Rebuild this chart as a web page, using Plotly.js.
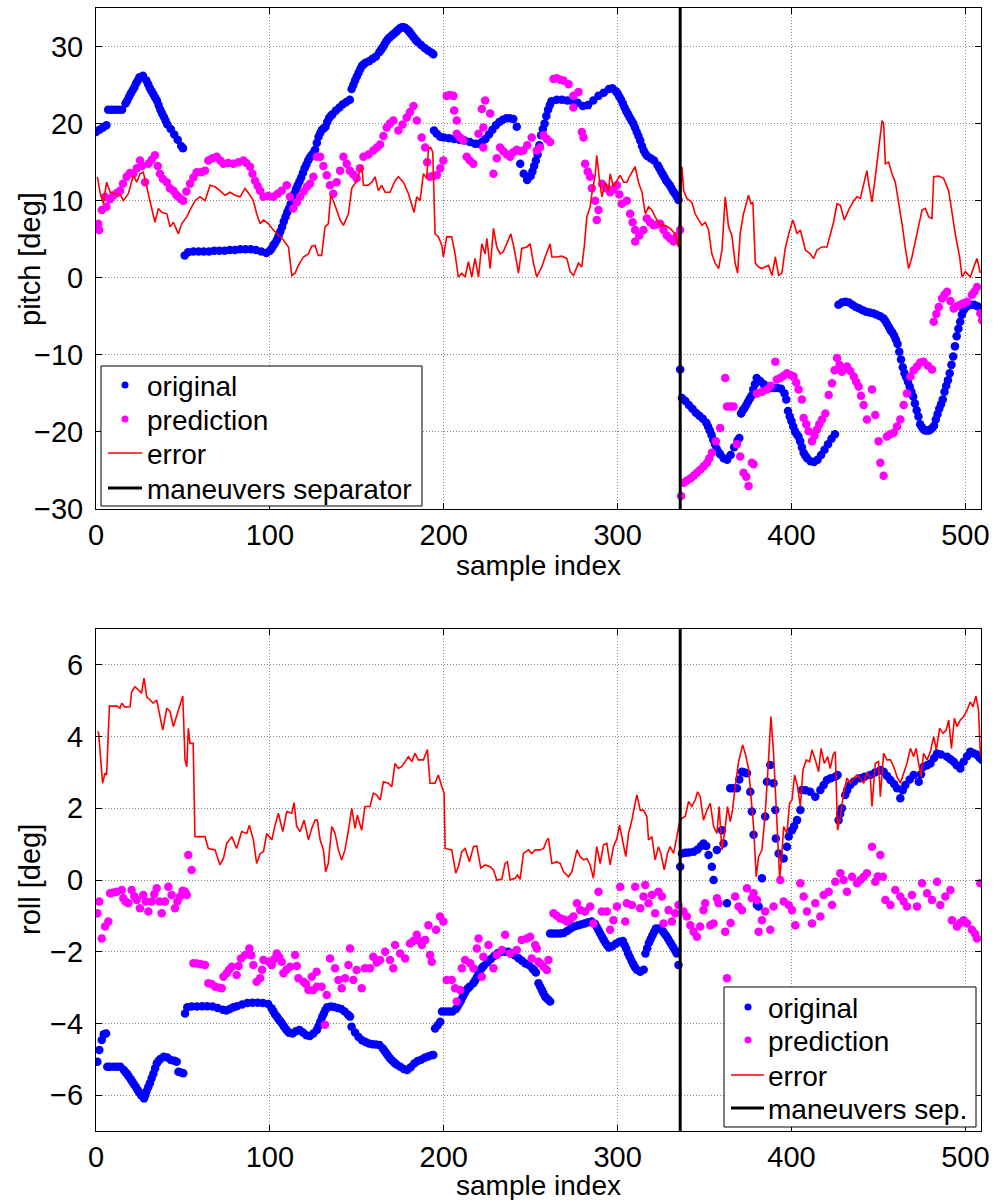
<!DOCTYPE html>
<html>
<head>
<meta charset="utf-8">
<script src="https://cdn.plot.ly/plotly-3.0.1.min.js"></script>
<style>html,body{margin:0;padding:0;background:#fff;}#chart{width:996px;height:1200px;}</style>
</head>
<body>
<div id="chart"></div>
<script>
// ---------- DATA (sample index, value) ----------
const separatorIndex = 336;
const xTicks = [0, 100, 200, 300, 400, 500];
const pitchTicks = [-30, -20, -10, 0, 10, 20, 30];
const rollTicks = [-6, -4, -2, 0, 2, 4, 6];
const pitchLegend = ['original', 'prediction', 'error', 'maneuvers separator'];
const rollLegend = ['original', 'prediction', 'error', 'maneuvers sep.'];

const pitchOriginal = [
[0,18.9],[2,19.2],[4,19.5],[6,19.8],[7,21.8],[9,21.8],[11,21.8],[13,21.8],[15,21.8],[17,22.6],[19,23.5],[21,24.3],[23,25.2],[25,26.0],[27,26.2],[29,25.6],[31,24.6],[33,23.8],[35,23.0],[37,21.8],[39,20.9],[41,19.9],[43,19.3],[45,18.6],[47,17.9],[49,17.1],[50,16.8],
[51,2.9],[53,3.3],[56,3.4],[59,3.4],[62,3.4],[65,3.4],[68,3.5],[71,3.5],[74,3.5],[77,3.6],[80,3.6],[83,3.7],[86,3.7],[89,3.7],[92,3.6],[95,3.4],[98,3.2],[100,3.5],[102,4.2],[104,4.9],[106,6.0],[108,7.3],[110,8.5],[112,9.6],[114,10.9],[116,12.0],[118,13.0],[120,14.2],[122,15.2],[124,15.9],[126,16.6],[128,18.3],[130,19.2],[132,19.6],[134,20.7],[136,21.2],[138,21.7],[140,22.1],[142,22.5],[144,22.8],[146,23.1],[147,24.5],[149,25.6],[151,26.6],[153,27.5],[155,27.9],[157,28.1],[159,28.4],[161,28.7],[163,29.3],[165,29.9],[167,30.7],[169,31.2],[171,31.6],[173,32.0],[175,32.4],[177,32.5],[179,32.2],[181,31.7],[183,31.1],[185,30.6],[187,30.2],[189,29.8],[191,29.5],[193,29.2],[194,29.0],
[194.4,19.1],[196,18.7],[198,18.3],[200,18.2],[203,18.1],[206,18.0],[209,17.9],[212,17.8],[215,17.6],[218,17.4],[220,17.4],[222,17.6],[224,18.0],[226,18.6],[228,19.2],[230,19.8],[232,20.2],[234,20.5],[236,20.7],[238,20.7],[240,20.6],[242,19.6],
[244,14.8],[246,13.5],[248,12.7],[250,13.2],[252,14.5],[254,16.0],[256,18.5],[258,20.0],[260,21.8],[262,22.9],[265,23.1],[268,23.1],[271,23.0],[274,22.9],[277,22.7],[280,22.3],[283,22.4],[286,23.0],[289,23.6],[292,24.0],[295,24.5],[297,24.6],[299,24.2],[301,23.5],[303,22.6],[305,21.6],[307,20.8],[309,20.0],[311,18.9],[313,17.8],[315,16.5],[317,15.8],[319,15.5],[321,15.2],[323,14.6],[325,13.8],[327,13.0],[329,12.3],[331,11.6],[333,10.9],[335,10.1],
[336,-11.9],[337,-15.6],[339,-16.0],[341,-16.5],[343,-17.0],[345,-17.5],[347,-17.9],[349,-18.3],[351,-18.8],[353,-19.8],[355,-21.0],[357,-22.2],[359,-22.9],[361,-23.4],[363,-23.6],[365,-23.0],[367,-22.0],[369,-21.1],[370,-20.8],
[371,-17.6],[373,-16.9],[375,-16.1],[377,-15.3],[378,-14.5],[380,-13.0],[382,-13.4],[384,-13.8],[386,-14.1],[388,-14.3],[390,-14.3],[392,-14.3],[394,-14.4],[396,-15.0],[397,-15.8],[398,-17.3],[400,-18.6],[402,-19.9],[404,-20.6],[405,-21.2],[407,-22.7],[409,-23.4],[411,-23.8],[413,-23.9],[415,-23.6],[417,-23.0],[419,-22.3],[421,-21.6],[423,-20.9],[425,-20.3],
[427,-3.5],[429,-3.2],[431,-3.1],[433,-3.2],[435,-3.5],[437,-3.8],[439,-4.0],[441,-4.2],[443,-4.4],[445,-4.5],[447,-4.6],[449,-4.8],[451,-5.0],[453,-5.3],[455,-6.0],[457,-6.8],[459,-7.5],[461,-8.6],[462,-9.6],[463,-10.6],[464,-11.6],[465,-12.4],[467,-13.5],[468,-14.1],[470,-15.4],[471,-16.3],[473,-18.0],[474,-19.0],[476,-19.7],[478,-19.8],[480,-19.7],[482,-19.2],[483,-18.4],[485,-17.0],[487,-15.8],[488,-14.8],[490,-13.3],[491,-12.4],[492,-11.3],[493,-10.2],[494,-8.9],[495,-7.6],[496,-6.6],[497,-5.7],[498,-4.8],[499,-4.2],[501,-3.7],[503,-3.5],[505,-3.5],[507,-3.7],[509,-4.0],
[18,23.0],[20,23.9],[22,24.7],[24,25.6],[30,25.1],[32,24.2],[34,23.4],[36,22.4],[38,21.3],[40,20.4],
[101,3.8],[103,4.5],[105,5.4],[107,6.6],[109,7.9],[111,9.0],[113,10.2],[115,11.5],[117,12.5],[119,13.6],[121,14.7],[123,15.6],[125,16.2],[127,17.5],[129,18.8],[131,19.4],[133,20.2],[135,21.0],
[148,25.0],[150,26.1],[152,27.1],[154,27.7],[164,29.6],[166,30.3],[168,31.0],[170,31.4],[172,31.8],[174,32.2],[176,32.5],[178,32.4],[180,32.0],[182,31.4],[184,30.8],
[251,13.8],[253,15.2],[255,17.2],[257,19.3],[259,21.0],[261,22.4],
[300,23.9],[302,23.1],[304,22.1],[306,21.2],[308,20.4],[310,19.5],[312,18.4],[314,17.1],[316,16.1],[324,14.2],[326,13.4],[328,12.6],[330,12.0],[332,11.2],[334,10.5],
[352,-19.3],[354,-20.4],[356,-21.6],[358,-22.6],[372,-17.2],[374,-16.5],[376,-15.7],[379,-13.8],
[399,-18.0],[401,-19.3],[403,-20.3],[406,-22.0],[408,-23.1],
[454,-5.6],[456,-6.4],[458,-7.1],[460,-8.0],[466,-12.9],[469,-14.8],[472,-17.2],[475,-19.4],[477,-19.8],[479,-19.8],[481,-19.5],[484,-17.7],[486,-16.4],[489,-14.0],[500,-3.9]
];

const pitchPrediction = [
[1.3,7.0],[1.9,6.2],[3.3,8.8],[5.2,10.5],[6,9.2],[8,10.2],[10,10.7],[12,11.0],[13.8,11.3],[15.5,12.2],[17.6,13.1],[19.5,13.6],[21.5,13.5],[23.5,14.2],[25.3,15.2],[26.5,14.5],[28.2,12.4],[30.1,14.8],[32,15.3],[33.9,15.9],[35.5,14.5],[36.8,13.5],[38.5,12.8],[40.7,12.4],[42.5,11.6],[44.5,11.3],[46,10.8],[47.4,10.5],[49,10.2],[50.2,10.0],[52,11.2],[54.1,12.2],[56,13.0],[57.9,13.7],[60.5,13.7],[62.7,13.9],[64.6,15.2],[67,15.5],[69.4,15.7],[71.5,15.2],[73.3,14.8],[76,14.9],[79,14.8],[82,15.0],[84.8,15.2],[86.5,14.9],[88.6,14.4],[90,13.5],[91.5,12.6],[93,11.9],[94.4,11.3],[96.3,10.5],[99,10.6],[102,10.5],[104.5,10.9],[106.8,11.3],[109.7,12.0],[111.5,10.5],[113.5,9.0],[115.5,9.8],[117.4,10.5],[119.5,11.2],[121.3,11.8],[123.1,12.2],[125,13.1],[127,15.7],[128.9,15.7],[130.8,14.5],[132.7,13.3],[134.6,12.0],[136.5,10.9],[138.4,12.4],[140.4,13.9],[142.3,15.7],[144.2,14.8],[146,13.9],[148,13.4],[149.9,12.9],[151.8,14.2],[153.8,15.7],[156.7,16.0],[159.5,16.5],[161.5,16.9],[163.4,17.3],[165.3,18.4],[167.2,19.5],[169,20.0],[171,20.4],[173.9,19.1],[176.3,19.9],[178.7,20.8],[180.6,21.5],[182.6,22.3],[184.5,20.4],[187.3,18.2],[189.3,16.9],[190.5,15.0],[192.1,13.1],[194,13.2],[196,13.3],[198,14.2],[199.8,15.2],[201.7,23.6],[203.6,23.7],[205.6,23.6],[206,21.7],[207.5,20.4],[207.5,18.7],[209.4,18.2],[211.3,17.8],[213.2,15.7],[215,15.2],[217,14.8],[220,18.7],[221.9,21.9],[222.8,19.5],[222.8,16.9],[223.8,23.0],[226.7,21.3],[228.6,13.5],[230.5,15.5],[232.4,16.9],[234.3,16.4],[236.3,16.0],[238.2,15.7],[240,16.3],[242,16.6],[244,16.4],[245.8,16.5],[248,17.2],[250.6,18.2],[253.5,16.5],[255.4,16.9],[257.4,18.5],[259.3,18.0],[261.2,17.6],[263.1,25.8],[265,25.9],[267,25.7],[268.9,25.6],[271.8,25.1],[274.6,23.6],[274.6,22.1],[277.5,24.1],[279.4,18.9],[280.4,18.2],[281.3,14.8],[282.8,13.8],[284.2,13.1],[285.2,11.6],[287.1,10.0],[288,7.5],[289,8.8],[291,12.2],[293.4,11.6],[295.7,11.1],[297.6,11.5],[299.6,12.0],[301,10.8],[302.4,9.6],[305.3,10.0],[307.2,8.3],[308.6,7.2],[310.1,6.2],[310.1,4.7],[312.5,5.5],[314.9,6.2],[316.8,7.7],[318.7,7.2],[320.7,6.8],[322.6,6.9],[324.5,7.0],[326.4,6.2],[328.3,5.5],[330.2,5.1],[332.2,4.7],[334.1,5.4],[336,6.2],
[336.5,-28.3],[338,-26.6],[340,-26.3],[342,-26.0],[343.7,-25.7],[345.6,-25.3],[347.5,-24.9],[349.4,-24.5],[351.4,-24.0],[352.8,-23.4],[354.2,-22.7],[356.5,-21.2],[359,-19.5],[361.9,-13.0],[362.9,-16.7],[364.8,-16.7],[366.7,-16.7],[368.6,-21.6],[370.5,-23.2],[372.4,-25.3],[374,-25.8],[375.3,-27.0],[377.2,-24.0],[378.2,-24.2],[380.1,-15.0],[383,-14.8],[385.9,-14.5],[388,-14.0],[390.7,-10.9],[391.6,-13.2],[393.5,-13.0],[395.5,-12.7],[397.4,-12.4],[399.3,-12.6],[401.2,-12.8],[402.7,-13.6],[404.1,-14.5],[406,-15.8],[407,-18.2],[408.5,-19.0],[409.9,-19.9],[411.8,-21.2],[413.2,-20.5],[414.7,-19.7],[416,-19.0],[417.5,-18.4],[419.5,-17.6],[421.4,-15.2],[423.3,-13.7],[424.8,-12.0],[426.2,-10.4],[427.6,-11.3],[429,-12.2],[431.9,-11.5],[433.8,-12.1],[435.8,-12.8],[437.2,-13.5],[438.6,-14.1],[440,-15.3],[441.5,-16.5],[443.4,-18.4],[446.3,-14.5],[448.2,-17.8],[450.1,-21.2],[451.1,-24.0],[453,-25.7],[454.9,-20.6],[456.8,-20.3],[458.8,-20.1],[460.7,-19.3],[462.6,-18.4],[464.5,-16.5],[466.4,-15.0],[468.4,-12.8],[470.3,-12.0],[472.2,-11.5],[474.1,-11.0],[476,-10.9],[478.5,-11.4],[480.8,-11.9],[481.8,-5.7],[483.3,-4.7],[484.7,-3.8],[486.6,-2.7],[488,-2.2],[489.5,-1.8],[491.4,-3.0],[493.3,-4.0],[495.2,-3.7],[497.1,-3.5],[499,-3.3],[501,-3.1],[503.8,-2.2],[505.2,-1.8],[506.7,-1.2],[508.6,-4.6],[509.6,-5.5]
];

const pitchError = [
[0.8,13.1],[2.3,11.1],[4.2,9.6],[6.1,12.4],[8.1,11.1],[10.9,10.9],[13.8,10.9],[15.7,10.0],[18.6,10.9],[21.5,13.3],[23.4,12.4],[25.3,13.5],[27.2,13.7],[29.2,11.8],[31.1,9.6],[33.9,7.2],[35.9,9.0],[37.8,8.5],[40.7,8.3],[42.6,6.6],[44.5,7.2],[47.4,5.7],[49.3,7.0],[52.2,7.9],[54.1,8.8],[57,10.0],[59.8,10.5],[62.7,10.0],[65.6,12.0],[68.5,11.8],[71.3,11.3],[74.2,10.7],[77.1,11.1],[80,10.7],[82.9,10.5],[85.7,11.6],[88.6,10.7],[90.5,10.0],[92.4,8.3],[94.4,7.0],[96.3,7.5],[99.2,7.0],[102,6.2],[104.9,5.5],[107.8,4.9],[110.7,4.0],[112.6,0.3],[114.5,0.6],[116.4,1.6],[119.3,2.7],[122.2,3.1],[124,4.1],[126,4.2],[127.9,2.9],[129.8,2.9],[131.7,6.6],[133.6,7.0],[135,10.7],[136.5,10.0],[138.4,8.8],[140.4,7.5],[142.3,6.8],[145.2,8.3],[147.1,11.6],[150,12.6],[152.8,14.6],[153.8,12.0],[156.7,12.0],[158.6,12.4],[160.5,13.1],[162.4,11.3],[164.3,12.0],[166.3,11.1],[169.1,11.1],[172,12.6],[173.9,13.1],[176.8,12.4],[179.7,10.9],[181.6,9.4],[182.9,8.5],[184.5,10.5],[186.4,10.0],[188.3,13.5],[190.2,12.9],[191.2,16.7],[192.5,16.9],[193.7,16.3],[195,5.7],[197,5.3],[198.9,4.2],[199.8,2.7],[201.7,5.3],[204.6,5.3],[206.5,3.1],[208.4,0.1],[210.4,0.6],[212.3,0.1],[214.2,2.1],[216.1,0.1],[218,2.5],[220,0.1],[221.9,4.4],[223.8,3.1],[224.8,5.1],[226.7,1.2],[228.6,6.4],[230.5,4.0],[232.4,3.1],[234.3,3.4],[236.3,4.4],[238.6,5.7],[240.5,3.8],[243,0.6],[244.9,3.8],[247.8,4.0],[249.7,4.4],[251.6,1.9],[253.5,0.1],[256.4,1.4],[258.3,2.7],[261.2,4.4],[262.2,2.7],[265,2.7],[267.9,2.8],[270.8,2.5],[272.7,0.8],[274.6,0.3],[277.5,1.9],[279.4,1.4],[280.8,4.0],[282.3,7.9],[284.2,9.2],[285.2,10.9],[287.1,13.3],[288,15.9],[289.6,12.6],[291,10.5],[292.9,12.4],[294.8,11.3],[295.7,13.5],[297.6,11.8],[299.6,12.6],[301.5,13.3],[303.4,12.4],[305.3,12.4],[307.2,13.3],[310.1,14.4],[312,12.4],[314,11.1],[315.9,8.3],[317.8,9.2],[319.7,8.8],[321.6,7.9],[324.5,6.8],[327.4,6.8],[330.2,6.4],[333.1,5.7],[335,4.0],[337,14.4],[338,11.3],[339.8,10.3],[342.7,9.8],[344.6,8.3],[346.6,7.5],[348.5,6.8],[350.4,7.2],[352.3,6.2],[354.2,3.1],[356.1,1.9],[358.1,1.2],[360,3.6],[361.9,10.5],[363.8,6.6],[365.7,5.5],[367.6,1.9],[369,0.6],[370.5,5.7],[372.4,8.3],[375.3,10.7],[376.7,9.6],[377.8,9.8],[379.2,1.9],[381.1,1.4],[383,1.2],[384.9,1.4],[386.8,1.6],[388.8,0.3],[390.7,2.7],[392.6,0.3],[394.5,0.6],[396.4,3.8],[398.4,5.7],[400.8,7.5],[403.2,5.7],[405.1,6.2],[408,3.6],[410.8,3.1],[412.7,2.5],[414.7,3.6],[417.5,4.0],[420.4,4.0],[422.3,5.7],[424.2,7.2],[426.2,9.6],[428.1,9.4],[430.4,7.5],[432.9,8.8],[435.8,10.0],[437.7,10.5],[439.6,10.3],[441.5,12.0],[443.4,13.9],[444.4,12.2],[446.3,9.8],[448.2,13.1],[450.1,16.5],[452.1,20.4],[453,20.0],[454,14.8],[455.9,15.0],[457.8,13.5],[459.7,12.4],[461.6,10.0],[463.6,7.0],[465.5,3.8],[467.4,1.2],[469.3,2.7],[471.2,4.7],[473.2,6.6],[475.1,8.8],[477,9.0],[478.9,7.9],[480.8,7.7],[481.8,13.1],[484.7,13.2],[487.5,12.9],[490.4,11.3],[492.3,8.3],[494.2,5.7],[496.7,2.7],[498.1,0.1],[500,0.8],[502.9,0.1],[504.8,1.4],[506.7,2.5],[508.6,0.6]
];

const rollOriginal = [
[0.8,-5.07],[1.9,-4.74],[3.3,-4.46],[4.5,-4.30],[5.8,-4.28],[6.5,-5.21],[8,-5.21],[10,-5.21],[12,-5.21],[14,-5.21],[16,-5.30],[18,-5.42],[20,-5.56],[22,-5.71],[24,-5.86],[26,-6.00],[27.6,-6.09],[29,-5.90],[31,-5.67],[33,-5.40],[35,-5.11],[37,-4.99],[39,-4.93],[41,-4.95],[43,-5.02],[45,-5.04],[46.4,-5.07],[47.4,-5.35],[49,-5.37],[50.2,-5.39],
[51.2,-3.72],[52.5,-3.55],[55,-3.53],[58,-3.53],[61,-3.52],[64,-3.52],[67,-3.53],[70,-3.57],[73,-3.62],[75,-3.64],[77,-3.60],[79,-3.55],[81,-3.52],[84,-3.47],[87,-3.43],[90,-3.42],[93,-3.42],[96,-3.43],[99,-3.46],[101,-3.58],[103,-3.75],[105,-3.88],[107,-4.00],[109,-4.15],[111,-4.26],[113,-4.28],[115,-4.22],[117,-4.18],[119,-4.25],[121,-4.33],[123,-4.35],[125,-4.28],[127,-4.18],[129,-3.95],[131,-3.72],[133,-3.55],[135,-3.53],[137,-3.54],[139,-3.57],[141,-3.60],[143,-3.67],[145,-3.76],[146.1,-3.81],
[147,-4.09],[149,-4.25],[151,-4.38],[153,-4.47],[155,-4.52],[157,-4.56],[159,-4.58],[161,-4.59],[163,-4.60],[165,-4.70],[167,-4.84],[169,-4.97],[171,-5.07],[173,-5.15],[175,-5.21],[177,-5.27],[179,-5.30],[181,-5.22],[183,-5.12],[185,-5.05],[187,-5.01],[189,-4.96],[191,-4.92],[193,-4.89],[194,-4.88],
[195,-4.14],[196.5,-4.05],[198,-3.95],[199,-3.67],[201,-3.67],[203,-3.67],[205,-3.67],[207,-3.60],[209,-3.44],[211,-3.25],[213,-3.07],[215,-2.97],[217,-2.88],[219,-2.72],[221,-2.51],[223,-2.40],[225,-2.30],[227,-2.21],[229,-2.12],[231,-2.04],[233,-2.00],[235,-2.00],[237,-2.00],[239,-2.05],[241,-2.10],[243,-2.18],[245,-2.25],[247,-2.33],[249,-2.37],[251,-2.47],[253,-2.58],[254.5,-2.88],[256.4,-3.07],[258.3,-3.25],[260,-3.33],[261.2,-3.39],
[261.2,-1.49],[263,-1.49],[265,-1.49],[267,-1.49],[269,-1.48],[271,-1.42],[273,-1.35],[275,-1.30],[277,-1.27],[279,-1.24],[281,-1.21],[283,-1.18],[285,-1.16],[287,-1.22],[289,-1.40],[291,-1.58],[293,-1.75],[295,-1.88],[297,-1.85],[299,-1.78],[301,-1.72],[303,-1.70],[305,-1.92],[307,-2.15],[309,-2.35],[311,-2.50],[313,-2.56],[315,-2.50],[316,-2.05],[318,-1.75],[320,-1.55],[322,-1.35],[324,-1.35],[326,-1.43],[328,-1.56],[330,-1.72],[332,-1.88],[334,-2.05],[335,-2.37],
[336,0.37],[337,0.74],[339,0.76],[341,0.77],[343.7,0.79],[346,0.85],[348,0.95],[349.4,1.02],[351,0.95],[352.3,0.70],[354.2,0.37],[355.2,0.0],[357.1,0.84],[360,1.39],[360.9,1.02],[362.9,-0.65],[364.8,2.56],[366.5,2.56],[368.6,2.56],[370,2.80],[371.5,3.02],[373,3.00],[374.4,2.98],[376.3,2.46],[377.2,1.91],[378.2,1.26],[380.1,-0.70],[381.1,-0.74],[383,0.05],[384.9,1.77],[385.9,2.74],[387.8,3.21],[389.7,2.70],[390.7,1.95],[391,1.16],[392.6,0.74],[395.5,0.60],[397.4,0.93],[398.4,1.21],[400.3,1.39],[401.5,1.50],[403.2,1.67],[405.1,1.95],[406,2.51],[408,2.50],[410.8,2.46],[413.7,2.32],[416.6,2.51],[418.5,2.65],[420.4,2.79],[422.5,2.84],[425.2,2.88],[426.5,2.93],
[427.1,1.67],[428,1.85],[429,2.00],[430.9,2.37],[432,2.50],[433.8,2.65],[436,2.75],[439.6,2.84],[442,2.88],[445.3,2.93],[448,3.00],[451.1,3.07],[453,3.02],[455,2.90],[456.9,2.79],[459,2.68],[460.7,2.56],[462.6,2.28],[464,2.50],[465.5,2.65],[468,2.80],[470.3,2.93],[473.2,2.74],[474.5,2.95],[476,3.16],[478,3.20],[479.9,3.25],[482,3.40],[483.7,3.53],[486,3.50],[489.5,3.44],[491.4,3.37],[493.3,3.30],[495,3.20],[497.1,3.11],[499,3.30],[501,3.45],[502.9,3.58],[505,3.53],[506.7,3.49],[508,3.42],[509.6,3.35],
[17,-5.36],[19,-5.49],[21,-5.63],[23,-5.78],[25,-5.93],[28.3,-6.00],[30,-5.78],[32,-5.53],[34,-5.25],[36,-5.04],
[102,-3.66],[104,-3.81],[106,-3.94],[108,-4.08],[110,-4.21],[128,-4.07],[130,-3.83],[132,-3.62],
[166,-4.77],[168,-4.90],[170,-5.02],[172,-5.11],
[208,-3.52],[210,-3.35],[212,-3.16],[214,-3.02],[218,-2.80],[220,-2.60],[222,-2.45],
[252,-2.52],[255.5,-2.98],[257.3,-3.16],[259,-3.29],
[288,-1.31],[290,-1.49],[292,-1.67],[294,-1.82],[304,-1.81],[306,-2.04],[308,-2.25],[310,-2.43],[317,-1.90],[319,-1.65],[321,-1.45],[327,-1.50],[329,-1.64],[331,-1.80],[333,-1.96]
];

const rollPrediction = [
[0.8,-0.93],[1.9,-0.60],[3.3,-1.63],[5.2,-1.30],[7.1,-1.16],[8.1,-0.37],[10,-0.35],[11.9,-0.33],[14.8,-0.28],[15.7,-0.51],[17,-0.60],[18.6,-0.65],[20.5,-0.28],[22,-0.45],[23.4,-0.56],[25.3,-0.79],[27.2,-0.42],[28.7,-0.60],[30.1,-0.88],[32,-0.60],[33.5,-0.40],[34.9,-0.23],[36.5,-0.60],[37.8,-0.93],[39.7,-0.60],[41.6,-0.19],[43.5,-0.42],[45.4,-0.79],[46.8,-0.60],[48.3,-0.46],[49.8,-0.30],[51.2,-0.33],[52.2,-0.42],[53.1,0.70],[55,0.28],
[56,-2.32],[58,-2.33],[60.5,-2.35],[62.7,-2.37],[64.6,-2.88],[66.5,-2.90],[68.5,-2.98],[70.5,-3.00],[72.3,-3.02],[73.3,-2.70],[75.2,-2.60],[76.5,-2.50],[78.1,-2.42],[80.9,-2.65],[82,-2.40],[83.4,-2.19],[85.7,-2.09],[88.2,-1.91],[89.3,-2.10],[90.5,-2.37],[92.4,-2.84],[94.4,-2.74],[95.5,-2.50],[96.3,-2.23],[99.2,-2.28],[101.1,-2.37],[102.5,-2.20],[104,-2.05],[105.4,-2.15],[106.8,-2.28],[107.8,-2.60],[109.5,-2.50],[111.6,-2.42],[114.5,-2.09],[115.5,-2.40],[116.4,-2.74],[119.3,-2.84],[120.8,-2.90],[122.2,-3.07],[124.1,-2.70],[125,-3.07],[126.9,-2.56],[127,-2.98],[129.8,-2.98],[131.7,-4.04],[132.7,-3.21],[134.6,-2.19],[137.5,-2.46],[139.4,-2.79],[141.3,-3.02],[143.2,-2.74],[145.2,-2.37],[146.1,-1.91],[148,-2.79],[149.9,-2.51],[152.8,-3.02],[154.7,-2.46],[157.6,-2.46],[159.5,-2.14],[161.5,-2.30],[163.4,-2.23],[166.3,-2.00],[169.1,-2.23],[171,-2.46],[172,-1.81],[174.9,-2.05],[177.8,-2.19],[180.6,-1.77],[182.5,-1.70],[184.5,-1.53],[186,-1.70],[187.4,-1.81],[189.3,-1.67],[191.2,-1.26],[192.1,-2.09],[193.1,-2.28],[195.6,-1.39],[197.9,-1.02],[199.8,-1.16],[201.7,-2.79],[204.6,-2.79],[206.5,-3.02],[207.5,-3.39],[209.4,-3.07],[210.4,-2.46],[212.3,-2.23],[215.2,-2.32],[217.1,-2.46],[219,-1.91],[220,-1.63],[221.9,-2.70],[222.8,-2.14],[225.7,-1.81],[228.6,-2.46],[230.5,-2.09],[233.4,-1.95],[235.3,-1.53],[238.2,-2.05],[242,-1.95],[244.9,-1.67],[247.8,-1.63],[249.7,-1.58],[250.6,-2.19],[252.6,-1.81],[253.5,-1.91],[254.5,-2.28],[255.4,-2.32],[257.4,-2.42],[259.3,-2.51],[260.2,-2.23],
[263.1,-0.93],[265,-1.00],[267,-1.07],[268.9,-1.10],[270.8,-1.16],[272.7,-1.10],[274.6,-1.02],[276.6,-0.65],[278.5,-0.84],[281.3,-0.88],[284.2,-0.74],[286.1,-1.21],[289,-0.33],[290.9,-0.88],[293.8,-0.88],[295.7,-1.39],[297.6,-1.12],[299.6,-0.74],[301.5,-0.19],[304.4,-1.16],[305.3,-0.65],[308.2,-0.70],[310.1,-0.19],[313,-0.79],[314.9,-0.46],[315.9,-0.14],[317.8,-0.65],[319.7,-0.42],[321.6,-0.93],[323.5,-0.33],[325.5,-0.46],[326.4,-1.21],[329.3,-0.84],[331.2,-1.16],[333.1,-0.93],[335,-0.70],
[337.9,-0.88],[339.8,-1.02],[341.8,-1.26],[343.7,-1.44],[345.6,-1.58],[347.5,-1.30],[349.4,-0.84],[350.4,-0.65],[353.3,-1.26],[355.2,-1.21],[357.1,-0.51],[358.1,-0.65],[361.9,-1.44],[362.9,-2.74],[365,-1.20],[367.6,-0.46],[369.6,-0.74],[371.5,-0.84],[374.4,-0.23],[377.2,-0.51],[378.2,-0.37],[380.1,-0.56],[381.1,-1.44],[383,-1.12],[384.9,-0.88],[387.8,-1.39],[389.7,-0.74],[393.6,0.0],[395.5,-0.60],[398.4,-0.70],[400.3,-0.84],[402.2,-1.26],[405.1,-0.09],[407,-0.46],[408.9,-0.88],[411.8,-1.21],[413.7,-0.65],[416.6,-1.02],[418.5,-0.42],[421.4,-0.33],[423.3,-0.70],[425.2,-0.05],[428.1,0.19],[430,0.0],[431.9,-0.33],[434.8,0.09],[437.7,-0.09],[439.6,0.0],[441.5,0.09],[443.4,0.19],[446.3,0.93],[448.2,-0.05],[449.6,0.10],[451.1,0.70],[452.6,0.09],[454,-0.56],[456.9,-0.70],[459.7,-0.28],[462.6,-0.46],[464.5,-0.60],[466.4,-0.74],[469.3,-0.42],[472.2,-0.74],[475.1,-0.09],[478,-0.37],[480.8,-0.56],[483.7,-0.05],[485.6,-0.70],[488.5,-0.46],[491.4,-0.28],[492.3,-1.12],[495.2,-1.30],[497,-1.20],[499,-1.12],[501,-1.21],[503.8,-1.39],[505.5,-1.50],[506.7,-1.63],[508.6,-0.09]
];

const rollError = [
[0.8,4.14],[1.5,4.10],[3.8,2.70],[5.2,2.98],[6.1,2.93],[7.7,4.85],[9.8,4.85],[11.9,4.85],[13.8,4.79],[14.8,4.93],[16.7,4.82],[19.6,4.83],[20.5,5.25],[22.4,5.39],[24.4,5.30],[26.2,5.21],[27.6,5.63],[29.2,5.11],[31.1,5.02],[32.9,4.93],[34.9,5.02],[36.8,4.56],[38.4,4.18],[40.7,4.79],[42.6,4.70],[44.5,4.28],[46.4,4.60],[48.3,4.88],[49.9,5.13],[51.2,3.35],[52.2,3.16],[53.1,4.23],[54.1,3.81],[55.9,3.81],[56.9,1.21],[59.8,1.21],[62.7,1.21],[64.6,0.88],[68.5,0.84],[71.3,0.42],[73.3,0.60],[75.2,1.02],[78.1,1.21],[80.9,0.88],[83.8,1.35],[86.7,1.30],[88.2,1.53],[90.5,1.12],[92.4,0.46],[94.4,0.74],[96.3,0.79],[98.2,1.30],[101.1,1.12],[103,1.53],[104.9,1.86],[107.4,1.35],[109.7,1.91],[112.6,1.86],[113.9,2.16],[115.4,1.49],[117.4,1.35],[119.7,1.67],[122.2,1.12],[124.1,1.44],[126,1.67],[127.3,1.67],[128.9,1.12],[130.8,0.84],[132.1,0.23],[133.6,0.46],[135.6,1.49],[137.5,1.30],[139.4,0.84],[141.3,0.56],[143.2,0.84],[145.2,1.39],[147.1,2.00],[149,1.44],[150.3,1.81],[152.8,1.39],[154.7,2.05],[157.6,2.05],[159.5,2.42],[161.5,2.37],[163.4,2.23],[165.3,2.74],[168.2,2.70],[170.1,2.60],[172,3.25],[173.9,3.11],[175.8,3.16],[177.8,3.30],[179.7,3.44],[181.6,3.30],[183.5,3.53],[185.4,3.35],[188.3,3.35],[190.6,3.64],[192.1,2.70],[195,2.70],[196.9,2.93],[198.9,2.60],[200.2,2.42],[200.8,0.88],[204.6,0.84],[206.9,0.19],[208.4,0.37],[210.4,0.79],[212.3,0.88],[214.8,0.51],[217.1,0.93],[219,0.95],[221.3,0.33],[223.8,0.42],[226.7,0.37],[228.6,0.28],[230.5,0.00],[233.4,0.02],[235.3,0.46],[236.6,0.51],[238.2,0.00],[241.1,0.05],[242.4,0.14],[243.9,0.02],[245.8,0.74],[248.7,0.84],[250.6,0.74],[252.6,0.84],[255.4,0.84],[257.4,0.88],[259.3,1.12],[260.2,1.16],[262.2,0.46],[265,0.51],[267,0.46],[268.9,0.23],[271.8,0.09],[273.7,0.23],[276.6,0.84],[278.5,0.65],[280.4,0.56],[282.3,0.60],[284.2,0.42],[286.1,0.05],[288,0.93],[290,0.46],[291.9,0.98],[293.8,1.02],[295.7,0.42],[297.6,0.93],[299.6,1.16],[301.1,1.53],[303.4,0.93],[304.7,0.65],[306.3,1.30],[308.2,1.67],[309.7,2.05],[311.1,2.37],[313,1.95],[314.9,1.95],[316.8,1.77],[317.8,1.12],[319.7,1.21],[321.6,0.56],[323.5,0.93],[324.9,0.74],[326.8,0.28],[328.7,0.74],[330.2,0.93],[332.2,0.74],[334.1,1.21],[335.4,1.58],[337,1.72],[338.9,1.77],[340.8,2.19],[342.7,2.05],[344.6,2.23],[346,2.46],[347.5,2.32],[349.4,1.67],[351.4,1.95],[353.3,2.14],[355.2,1.49],[357.1,1.30],[358.4,2.05],[360,0.84],[361.5,1.30],[363.2,2.05],[364.8,1.63],[366.1,1.95],[367.6,2.60],[369.6,3.30],[371.9,3.77],[373.4,3.53],[375.3,3.11],[376.9,2.32],[378.2,1.49],[379.7,0.09],[381.1,0.65],[383,0.84],[384.9,1.86],[386.8,3.35],[388.2,4.56],[389.7,3.53],[391.6,1.49],[393.2,0.05],[394.5,0.74],[395.5,1.49],[397.4,1.30],[398.9,2.14],[400.3,2.23],[401.8,2.93],[403.5,2.60],[405.1,2.05],[406.6,3.07],[408.5,3.35],[410.4,3.30],[411.8,3.63],[413.7,3.35],[415.6,3.02],[417,3.67],[418.9,3.25],[420.8,3.44],[422.3,3.11],[423.9,3.49],[425.2,3.58],[426.5,1.39],[428.1,1.77],[430,2.42],[431.9,2.84],[433.8,2.70],[435.8,2.84],[437.7,2.93],[439.6,2.84],[441.5,2.70],[443.4,2.98],[445.3,2.88],[446.3,2.05],[448.2,3.25],[450.1,3.30],[451.1,2.32],[453,3.53],[454.9,3.35],[456.9,3.35],[458.8,3.16],[460.7,2.88],[462.6,2.70],[464.5,2.98],[466.4,3.25],[468.4,3.67],[470.3,3.44],[471.6,3.67],[473.2,3.16],[474.5,2.88],[476,3.53],[478,3.35],[479.9,3.58],[481.8,4.00],[483.3,3.63],[485.2,4.23],[487.2,4.09],[489,4.18],[490.4,4.46],[492,3.67],[493.7,4.51],[495.2,4.28],[497.1,4.46],[499,4.56],[501,4.74],[502.9,4.97],[504.4,4.83],[506.1,5.13],[507.6,4.74],[508.6,3.53],[509.6,3.39]
];

const pitchRange = [-30, 35];
const rollRange = [-7, 7];
const xRange = [0, 509];

// ---------- STYLE / LAYOUT ----------
const BLUE = '#0000ff', MAG = '#ff00ff', RED = '#ff0000', BLACK = '#000000';
const FONT = 'Liberation Sans, Arial, Helvetica, sans-serif';
const FS = 29;
const W = 996, H = 1200, ML = 96, MR = 15, MT = 8, MB = 69;
const PW = W - ML - MR, PH = H - MT - MB;
const px = v => (v - ML) / PW;          // page px -> paper x
const py = v => (H - MB - v) / PH;      // page px -> paper y
const xs = p => p.map(d => d[0]);
const ys = p => p.map(d => d[1]);

function series(xa, ya, orig, pred, err, rng) {
  return [
    {x: xs(orig), y: ys(orig), xaxis: xa, yaxis: ya, name: 'original', showlegend: false,
     type: 'scatter', mode: 'markers', marker: {color: BLUE, size: 8.5, line: {width: 0}}},
    {x: xs(pred), y: ys(pred), xaxis: xa, yaxis: ya, name: 'prediction', showlegend: false,
     type: 'scatter', mode: 'markers', marker: {color: MAG, size: 8.5, line: {width: 0}}},
    {x: xs(err), y: ys(err), xaxis: xa, yaxis: ya, name: 'error', showlegend: false,
     type: 'scatter', mode: 'lines', line: {color: RED, width: 1.6}},
    {x: [separatorIndex, separatorIndex], y: rng, xaxis: xa, yaxis: ya, name: 'maneuvers separator', showlegend: false,
     type: 'scatter', mode: 'lines', line: {color: BLACK, width: 3}}
  ];
}

const data = [].concat(
  series('x', 'y', pitchOriginal, pitchPrediction, pitchError, pitchRange),
  series('x2', 'y2', rollOriginal, rollPrediction, rollError, rollRange)
);

// boxed legends (MATLAB style), placed in page pixels
function legendBox(labels, box, rows, symX, lineX0, lineX1, textX) {
  const shapes = [
    {type: 'rect', xref: 'paper', yref: 'paper', x0: px(box[0]), x1: px(box[1]), y0: py(box[3]), y1: py(box[2]),
     fillcolor: '#ffffff', line: {color: BLACK, width: 1}, layer: 'above'}
  ];
  const colors = [BLUE, MAG];
  for (let i = 0; i < 2; i++) {
    shapes.push({type: 'circle', xref: 'paper', yref: 'paper', x0: px(symX - 3.5), x1: px(symX + 3.5),
      y0: py(rows[i] + 3.5), y1: py(rows[i] - 3.5), fillcolor: colors[i], line: {width: 0}, layer: 'above'});
  }
  shapes.push({type: 'line', xref: 'paper', yref: 'paper', x0: px(lineX0), x1: px(lineX1), y0: py(rows[2]), y1: py(rows[2]),
    line: {color: RED, width: 1.6}, layer: 'above'});
  shapes.push({type: 'line', xref: 'paper', yref: 'paper', x0: px(lineX0), x1: px(lineX1), y0: py(rows[3]), y1: py(rows[3]),
    line: {color: BLACK, width: 3}, layer: 'above'});
  const annotations = labels.map((t, i) => ({
    text: t, xref: 'paper', yref: 'paper', x: px(textX), y: py(rows[i] + 1), xanchor: 'left', yanchor: 'middle',
    showarrow: false, font: {family: FONT, size: 28, color: BLACK}, borderpad: 0
  }));
  return {shapes, annotations};
}

const legTop = legendBox(pitchLegend, [101, 422, 366, 506], [385, 419, 453, 488], 125, 108, 142, 146);
const legBot = legendBox(rollLegend, [724, 976, 987, 1127], [1007, 1040, 1075, 1108], 748, 731, 764, 767);

const axisTitles = [
  {text: 'pitch [deg]', xref: 'paper', yref: 'paper', x: px(30), y: py(259), textangle: -90, xanchor: 'center', yanchor: 'middle', showarrow: false, font: {family: FONT, size: FS, color: BLACK}, borderpad: 0},
  {text: 'roll [deg]', xref: 'paper', yref: 'paper', x: px(30), y: py(880), textangle: -90, xanchor: 'center', yanchor: 'middle', showarrow: false, font: {family: FONT, size: FS, color: BLACK}, borderpad: 0},
  {text: 'sample index', xref: 'paper', yref: 'paper', x: 0.5, y: py(565), xanchor: 'center', yanchor: 'middle', showarrow: false, font: {family: FONT, size: 28, color: BLACK}, borderpad: 0},
  {text: 'sample index', xref: 'paper', yref: 'paper', x: 0.5, y: py(1185), xanchor: 'center', yanchor: 'middle', showarrow: false, font: {family: FONT, size: 28, color: BLACK}, borderpad: 0}
];

const axisCommon = {
  showline: true, linecolor: BLACK, linewidth: 1, mirror: 'ticks',
  ticks: 'inside', ticklen: 6, tickwidth: 1, tickcolor: BLACK,
  showgrid: true, gridcolor: '#8c8c8c', griddash: '1px,2px', gridwidth: 1,
  zeroline: false, tickfont: {family: FONT, size: FS, color: BLACK}
};

const topDom = [py(509), 1];
const botDom = [0, py(629)];

const layout = {
  width: W, height: H,
  margin: {l: ML, r: MR, t: MT, b: MB},
  paper_bgcolor: '#fff', plot_bgcolor: '#fff',
  font: {family: FONT, size: FS, color: BLACK},
  showlegend: false,
  xaxis: Object.assign({}, axisCommon, {domain: [0, 1], anchor: 'y', range: xRange, tickvals: xTicks, ticklabelstandoff: 0}),
  yaxis: Object.assign({}, axisCommon, {domain: topDom, anchor: 'x', range: pitchRange, tickvals: pitchTicks, ticklabelstandoff: 6}),
  xaxis2: Object.assign({}, axisCommon, {domain: [0, 1], anchor: 'y2', range: xRange, tickvals: xTicks, ticklabelstandoff: 0}),
  yaxis2: Object.assign({}, axisCommon, {domain: botDom, anchor: 'x2', range: rollRange, tickvals: rollTicks, ticklabelstandoff: 6}),
  shapes: legTop.shapes.concat(legBot.shapes),
  annotations: axisTitles.concat(legTop.annotations, legBot.annotations)
};

Plotly.newPlot('chart', data, layout, {staticPlot: true, displayModeBar: false});
</script>
</body>
</html>
